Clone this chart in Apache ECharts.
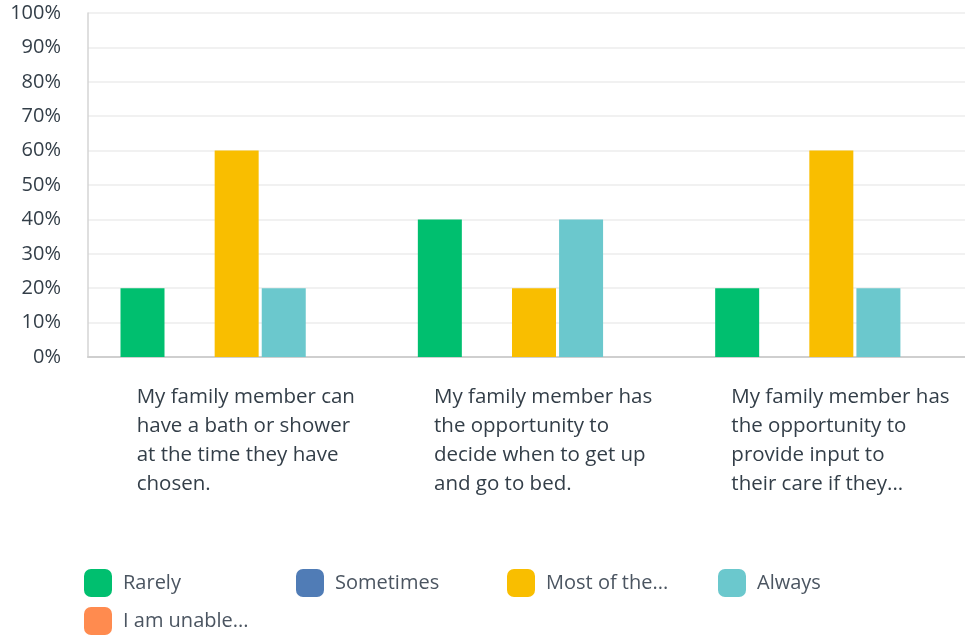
<!DOCTYPE html>
<html><head><meta charset="utf-8">
<script src="https://cdn.jsdelivr.net/npm/echarts@6/dist/echarts.min.js"></script>
<style>html,body{margin:0;padding:0;background:#fff;overflow:hidden}#c{width:980px;height:636px}</style>
</head><body><div id="c"></div>
<script>
var categories = [
  "My family member can\nhave a bath or shower\nat the time they have\nchosen.",
  "My family member has\nthe opportunity to\ndecide when to get up\nand go to bed.",
  "My family member has\nthe opportunity to\nprovide input to\ntheir care if they..."
];
var seriesNames = ["Rarely", "Sometimes", "Most of the...", "Always", "I am unable..."];
var rarely = [20, 40, 20];
var sometimes = [0, 0, 0];
var mostOfThe = [60, 20, 60];
var always = [20, 40, 20];
var unable = [0, 0, 0];
var yTicks = ["0%","10%","20%","30%","40%","50%","60%","70%","80%","90%","100%"];

var colors = ["#00bf6f", "#507cb6", "#f9be00", "#6bc8cd", "#ff8b4f"];
var values = [rarely, sometimes, mostOfThe, always, unable];
var font = "Open Sans";
var textColor = "#333e48";

var chart = echarts.init(document.getElementById('c'));
var legendPos = [[84,569],[296,569],[507,569],[718,569],[84,607]];
var legends = seriesNames.map(function(n, i){
  return {
    data: [n], left: legendPos[i][0], top: legendPos[i][1], padding: 0,
    itemWidth: 28, itemHeight: 28, icon: 'roundRect', selectedMode: false,
    textStyle: {fontFamily: font, fontSize: 20, color: "#4b5561", padding: [6,0,0,6]}
  };
});
chart.setOption({
  animation: false,
  color: colors,
  legend: legends,
  grid: {left: 88, top: 13, right: 0, bottom: 279, containLabel: false},
  xAxis: {
    type: 'category', data: categories,
    axisLine: {show: true, lineStyle: {color: '#cfcfcf', width: 2}},
    axisTick: {show: false},
    axisLabel: {
      fontFamily: font, fontSize: 20.5, color: textColor, lineHeight: 29,
      align: 'left', margin: 26, padding: [0,0,0,-100], interval: 0
    }
  },
  yAxis: {
    type: 'value', min: 0, max: 100, interval: 10,
    axisLine: {show: true, lineStyle: {color: '#d5d5d5', width: 1.5}},
    axisTick: {show: false},
    splitLine: {lineStyle: {color: '#ececec', width: 1.5}},
    axisLabel: {
      fontFamily: font, fontSize: 20, color: textColor, margin: 27,
      formatter: function(v){ return yTicks[Math.round(v/10)]; }
    }
  },
  series: seriesNames.map(function(n, i){
    return {name: n, type: 'bar', data: values[i], barWidth: 44, barGap: '7%'};
  })
});
</script></body></html>
